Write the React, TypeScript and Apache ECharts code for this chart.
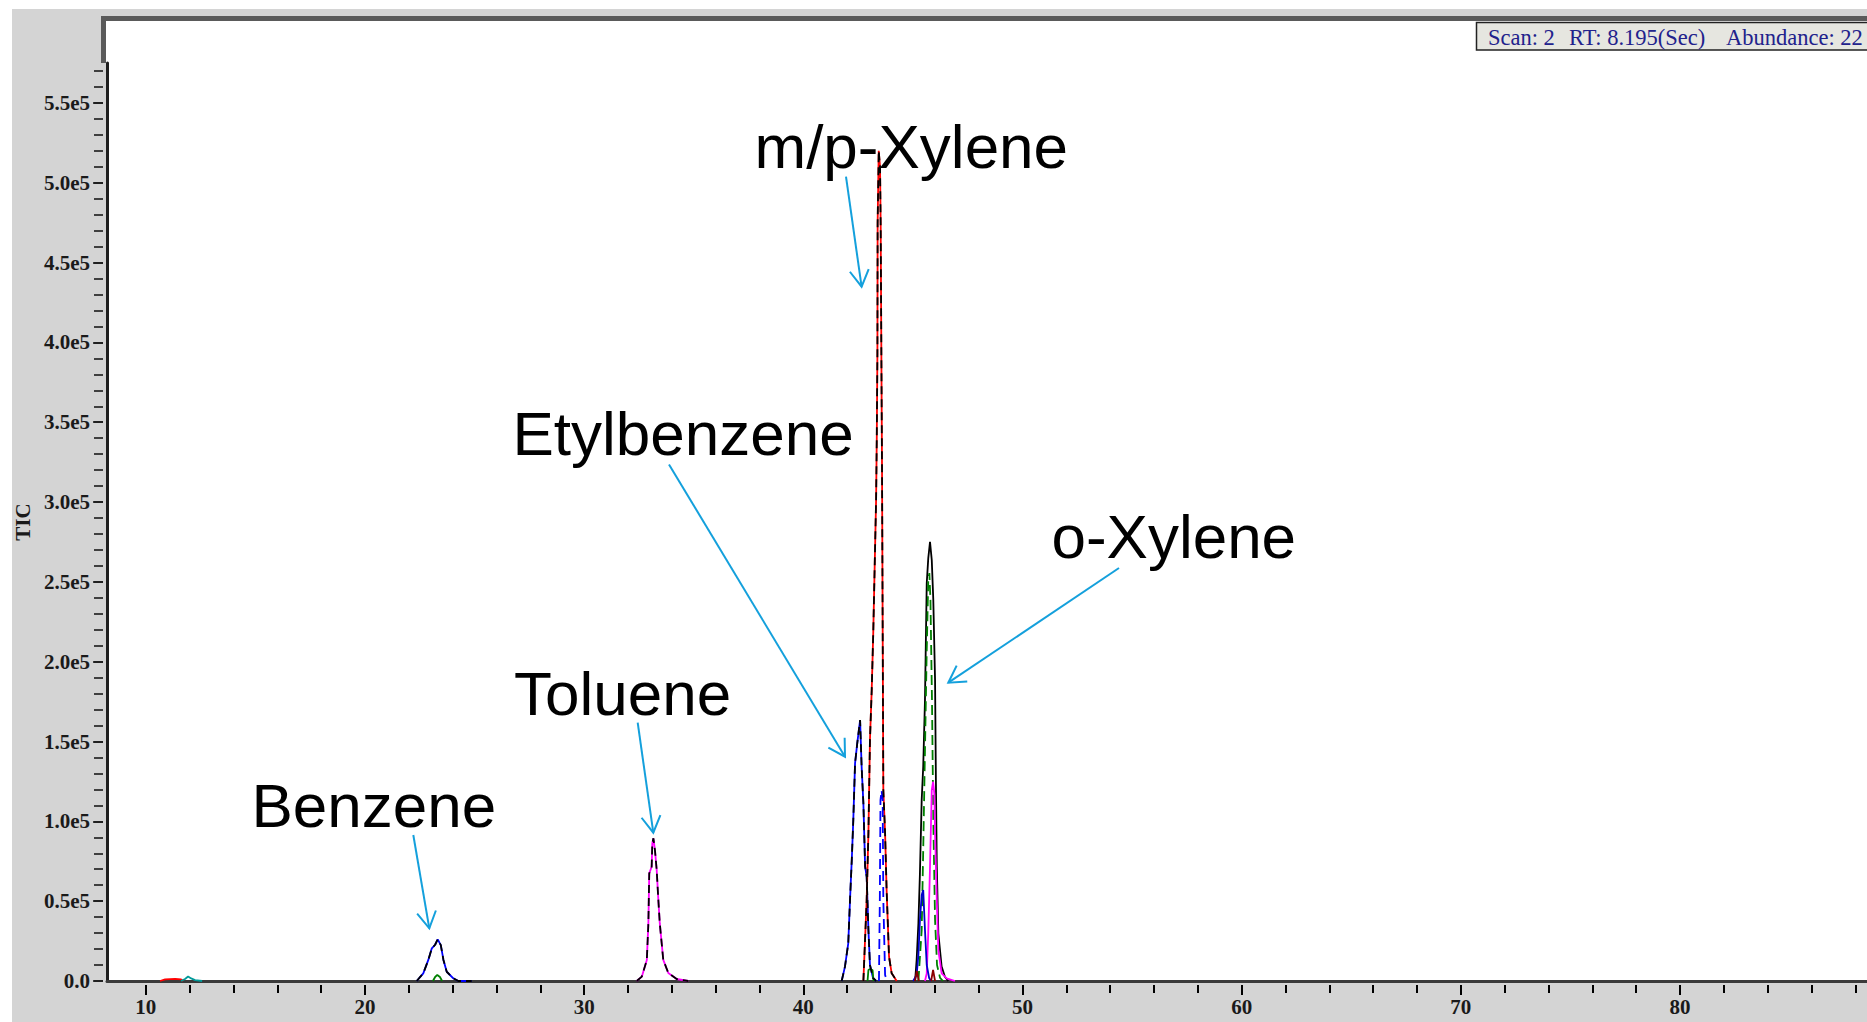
import React, { useEffect, useRef } from "react";
import * as echarts from "echarts";

// ---------- axis ranges & ticks ----------
const X_MIN = 8.23;
const X_MAX = 88.53;
const Y_MIN = 0;
const Y_MAX = 575000;

const X_MAJOR_TICKS = [10, 20, 30, 40, 50, 60, 70, 80];
const X_MINOR_TICKS = [
  10, 12, 14, 16, 18, 20, 22, 24, 26, 28, 30, 32, 34, 36, 38, 40, 42, 44, 46, 48,
  50, 52, 54, 56, 58, 60, 62, 64, 66, 68, 70, 72, 74, 76, 78, 80, 82, 84, 86, 88,
];
const Y_MAJOR_TICKS = [
  0, 50000, 100000, 150000, 200000, 250000, 300000, 350000, 400000, 450000, 500000, 550000,
];
const Y_MINOR_TICKS = [
  0, 10000, 20000, 30000, 40000, 50000, 60000, 70000, 80000, 90000,
  100000, 110000, 120000, 130000, 140000, 150000, 160000, 170000, 180000, 190000,
  200000, 210000, 220000, 230000, 240000, 250000, 260000, 270000, 280000, 290000,
  300000, 310000, 320000, 330000, 340000, 350000, 360000, 370000, 380000, 390000,
  400000, 410000, 420000, 430000, 440000, 450000, 460000, 470000, 480000, 490000,
  500000, 510000, 520000, 530000, 540000, 550000, 560000, 570000,
];

// ---------- chromatogram traces (retention time, TIC) ----------
const smallRedRT = [10.65, 10.88, 11.34, 11.61, 11.7];
const smallRedTIC = [0, 1000, 1300, 1000, 0];

const smallTealRT = [11.61, 11.79, 11.93, 12.07, 12.25, 12.57];
const smallTealTIC = [0, 1300, 2800, 1600, 600, 0];

const benzeneRT = [22.36, 22.66, 22.89, 23.05, 23.2, 23.32, 23.46, 23.58, 23.73, 24.03, 24.26, 24.87];
const benzeneTIC = [0, 4800, 13200, 20500, 22700, 26100, 22500, 13200, 5800, 1700, 0, 0];

const benzeneGreenRT = [23.1, 23.2, 23.3, 23.42, 23.52];
const benzeneGreenTIC = [0, 2500, 3800, 2500, 0];

const tolueneRT = [32.4, 32.63, 32.86, 32.93, 32.97, 33.08, 33.11, 33.16, 33.23, 33.31, 33.38, 33.45, 33.61, 33.84, 34.22, 34.75];
const tolueneTIC = [0, 2700, 13200, 36100, 67400, 71600, 86200, 89400, 82000, 69500, 52000, 36200, 13200, 5000, 1250, 0];

const ethylbenzeneRT = [41.75, 41.9, 42.05, 42.13, 42.21, 42.28, 42.36, 42.46, 42.59, 42.66, 42.74, 42.82, 42.89, 42.97, 43.04, 43.18, 43.32];
const ethylbenzeneTIC = [0, 9000, 23600, 50700, 75800, 100800, 136300, 148900, 163400, 134200, 111300, 71600, 65300, 31900, 10000, 1900, 0];

const mpXyleneRT = [42.74, 42.89, 42.97, 43.04, 43.12, 43.19, 43.32, 43.35, 43.38, 43.39, 43.44, 43.5, 43.53, 43.56, 43.59, 43.65, 43.73, 43.8, 43.91, 44.03, 44.26];
const mpXyleneTIC = [0, 50700, 92700, 150900, 182200, 217900, 301200, 338800, 393300, 474700, 520000, 509900, 472300, 393300, 322100, 119600, 92700, 57000, 15200, 4800, 0];

const mpBlueDashRT = [43.45, 43.49, 43.52, 43.57, 43.62, 43.65, 43.73, 43.82];
const mpBlueDashTIC = [0, 50700, 113300, 119600, 113300, 50700, 3800, 0];

const greenSmallRT = [42.93, 42.97, 43.04, 43.16, 43.2];
const greenSmallTIC = [0, 6900, 7500, 6900, 0];

const oXyleneRT = [45.1, 45.17, 45.25, 45.32, 45.4, 45.47, 45.55, 45.63, 45.7, 45.78, 45.86, 45.93, 46.01, 46.05, 46.09, 46.16, 46.31, 46.46, 46.61];
const oXyleneTIC = [0, 13200, 36100, 67400, 113300, 134200, 175900, 249000, 264700, 275100, 263600, 238600, 188500, 123800, 71600, 29900, 9000, 2700, 0];

const oXyleneGreenRT = [45.25, 45.4, 45.47, 45.55, 45.63, 45.7, 45.75, 45.8, 45.87, 45.93, 46.01, 46.1, 46.24, 46.37];
const oXyleneGreenTIC = [0, 31900, 82000, 144700, 207300, 251100, 255500, 238600, 175900, 100800, 38200, 10000, 1900, 0];

const oXyleneMagentaRT = [45.55, 45.63, 45.7, 45.78, 45.86, 45.92, 45.98, 46.01, 46.09, 46.16, 46.31, 46.54, 46.92];
const oXyleneMagentaTIC = [0, 4800, 29900, 71600, 119600, 124800, 117000, 92700, 50700, 19400, 4800, 1700, 0];

const oXyleneBlueRT = [45.01, 45.17, 45.25, 45.32, 45.4, 45.47, 45.55, 45.63, 45.74, 45.83];
const oXyleneBlueTIC = [0, 3800, 16300, 38200, 53900, 57000, 31900, 10000, 1900, 0];

const darkRedART = [45.09, 45.18, 45.27];
const darkRedATIC = [0, 6300, 0];
const darkRedBRT = [45.83, 45.92, 46.01];
const darkRedBTIC = [0, 6900, 0];

// ---------- annotations ----------
const LABELS = ["Benzene", "Toluene", "Etylbenzene", "m/p-Xylene", "o-Xylene"];
const INFO_PARTS = ["Scan: 2", "RT: 8.195(Sec)", "Abundance: 22"];

const ARROW_COLOR = "#14a0dc";

function pts(rt: number[], tic: number[]) {
  return rt.map((x, i) => [x, tic[i]]);
}

function trace(name: string, rt: number[], tic: number[], color: string, dashed: boolean, z: number, dash?: number[]) {
  return {
    type: "line",
    name,
    data: pts(rt, tic),
    symbol: "none",
    showSymbol: false,
    silent: true,
    z,
    xAxisIndex: 0,
    yAxisIndex: 0,
    lineStyle: { color, width: 1.8, type: dashed ? dash || [8, 5] : "solid" },
  };
}

function arrow(x1: number, y1: number, x2: number, y2: number) {
  const a = Math.atan2(y1 - y2, x1 - x2);
  const L = 19;
  const w1 = [x2 + L * Math.cos(a + Math.PI / 6), y2 + L * Math.sin(a + Math.PI / 6)];
  const w2 = [x2 + L * Math.cos(a - Math.PI / 6), y2 + L * Math.sin(a - Math.PI / 6)];
  return [
    { type: "line", z: 50, silent: true, shape: { x1, y1, x2, y2 }, style: { stroke: ARROW_COLOR, lineWidth: 2 } },
    {
      type: "polyline",
      z: 50,
      silent: true,
      shape: { points: [w1, [x2, y2], w2] },
      style: { stroke: ARROW_COLOR, lineWidth: 2, fill: "none" },
    },
  ];
}

function bigText(text: string, x: number, baseline: number) {
  return {
    type: "text",
    z: 50,
    silent: true,
    x,
    y: baseline - 21.5,
    style: {
      text,
      fill: "#000000",
      font: '62px "Liberation Sans", Arial, sans-serif',
      textAlign: "left",
      textVerticalAlign: "middle",
      align: "left",
      verticalAlign: "middle",
    },
  };
}

function infoText(text: string, x: number) {
  return {
    type: "text",
    z: 51,
    silent: true,
    x,
    y: 37,
    style: {
      text,
      fill: "#22228c",
      font: '22.5px "Liberation Serif", "Times New Roman", serif',
      textAlign: "left",
      textVerticalAlign: "middle",
      align: "left",
      verticalAlign: "middle",
    },
  };
}

const serifLabel = {
  fontFamily: '"Liberation Serif", "Times New Roman", serif',
  fontWeight: "bold",
  fontSize: 21,
  color: "#1a1a1a",
};

export default function App() {
  const ref = useRef<HTMLDivElement>(null);

  useEffect(() => {
    if (!ref.current) return;
    const chart = echarts.init(ref.current, undefined, { renderer: "svg" });

    const graphics: any[] = [
      { type: "rect", z: -20, silent: true, shape: { x: 12, y: 9, width: 1855, height: 1013 }, style: { fill: "#d4d4d4" } },
      { type: "rect", z: -19, silent: true, shape: { x: 106, y: 21, width: 1761, height: 960 }, style: { fill: "#ffffff" } },
      {
        type: "polyline",
        z: -18,
        silent: true,
        shape: { points: [[103.5, 63], [103.5, 18.5], [1867, 18.5]] },
        style: { stroke: "#5a5a5a", lineWidth: 5, fill: "none" },
      },
      {
        type: "rect",
        z: 49,
        silent: true,
        shape: { x: 1476.5, y: 22.5, width: 420, height: 27.5 },
        style: { fill: "#e6e6e0", stroke: "#222222", lineWidth: 1.5 },
      },
      infoText(INFO_PARTS[0], 1488),
      infoText(INFO_PARTS[1], 1569),
      infoText(INFO_PARTS[2], 1726),
      bigText(LABELS[0], 251.5, 826.7),
      bigText(LABELS[1], 514, 715),
      bigText(LABELS[2], 512.5, 455),
      bigText(LABELS[3], 754.5, 168.3),
      bigText(LABELS[4], 1051.4, 558.3),
      ...arrow(413.3, 835, 429.3, 928.3),
      ...arrow(637.7, 722.7, 653.3, 832.7),
      ...arrow(669, 464.4, 845, 756.7),
      ...arrow(846, 176.7, 861.6, 286.7),
      ...arrow(1119, 568, 948.3, 682.7),
    ];

    const baseX = { type: "value", min: X_MIN, max: X_MAX, position: "bottom", gridIndex: 0, splitLine: { show: false } };
    const baseY = { type: "value", min: Y_MIN, max: Y_MAX, position: "left", gridIndex: 0, splitLine: { show: false } };

    chart.setOption({
      animation: false,
      backgroundColor: "#ffffff",
      grid: { left: 107, right: 0, top: 63, bottom: 41, containLabel: false },
      xAxis: [
        {
          ...baseX,
          axisLine: { show: true, onZero: false, lineStyle: { color: "#3a3a3a", width: 3 } },
          axisTick: { show: false },
          axisLabel: { show: false },
        },
        {
          ...baseX,
          offset: 4,
          axisLine: { show: false, onZero: false },
          axisTick: { show: true, customValues: X_MAJOR_TICKS, length: 10, lineStyle: { color: "#000000", width: 2 } },
          axisLabel: { show: true, customValues: X_MAJOR_TICKS, margin: 11, ...serifLabel },
        },
        {
          ...baseX,
          offset: 4,
          axisLine: { show: false, onZero: false },
          axisTick: { show: true, customValues: X_MINOR_TICKS, length: 8, lineStyle: { color: "#000000", width: 2 } },
          axisLabel: { show: false },
        },
      ],
      yAxis: [
        {
          ...baseY,
          name: "TIC",
          nameLocation: "middle",
          nameRotate: 90,
          nameGap: 74,
          nameTextStyle: { ...serifLabel, fontSize: 21 },
          axisLine: { show: true, onZero: false, lineStyle: { color: "#1e1e1e", width: 3 } },
          axisTick: { show: false },
          axisLabel: { show: false },
        },
        {
          ...baseY,
          offset: 4,
          axisLine: { show: false, onZero: false },
          axisTick: { show: true, customValues: Y_MAJOR_TICKS, length: 10, lineStyle: { color: "#1a1a1a", width: 1.6 } },
          axisLabel: {
            show: true,
            customValues: Y_MAJOR_TICKS,
            margin: 13,
            ...serifLabel,
            formatter: (v: number) => (v === 0 ? "0.0" : (v / 100000).toFixed(1) + "e5"),
          },
        },
        {
          ...baseY,
          offset: 4,
          axisLine: { show: false, onZero: false },
          axisTick: { show: true, customValues: Y_MINOR_TICKS, length: 9, lineStyle: { color: "#1a1a1a", width: 1.6 } },
          axisLabel: { show: false },
        },
      ],
      graphic: graphics,
      series: [
        trace("red-small", smallRedRT, smallRedTIC, "#ff0000", false, 3),
        trace("teal-small", smallTealRT, smallTealTIC, "#009999", false, 3),
        trace("benzene", benzeneRT, benzeneTIC, "#0000ff", false, 3),
        trace("benzene-green", benzeneGreenRT, benzeneGreenTIC, "#008000", false, 4),
        trace("toluene", tolueneRT, tolueneTIC, "#ff00ff", false, 3),
        trace("ethylbenzene", ethylbenzeneRT, ethylbenzeneTIC, "#0000ff", false, 3),
        trace("mp-xylene", mpXyleneRT, mpXyleneTIC, "#ff0000", false, 3),
        trace("mp-blue-dash", mpBlueDashRT, mpBlueDashTIC, "#0000ff", true, 5, [10, 6]),
        trace("green-small", greenSmallRT, greenSmallTIC, "#008000", false, 4),
        trace("o-xylene", oXyleneRT, oXyleneTIC, "#000000", false, 3),
        trace("o-xylene-green", oXyleneGreenRT, oXyleneGreenTIC, "#008000", true, 4, [10, 5]),
        trace("o-xylene-magenta", oXyleneMagentaRT, oXyleneMagentaTIC, "#ff00ff", false, 5),
        trace("o-xylene-blue", oXyleneBlueRT, oXyleneBlueTIC, "#0000cc", false, 5),
        trace("darkred-a", darkRedART, darkRedATIC, "#8b0000", false, 5),
        trace("darkred-b", darkRedBRT, darkRedBTIC, "#8b0000", false, 5),
        trace("benzene-black", benzeneRT, benzeneTIC, "#000000", true, 6),
        trace("toluene-black", tolueneRT, tolueneTIC, "#000000", true, 6),
        trace("ethylbenzene-black", ethylbenzeneRT, ethylbenzeneTIC, "#000000", true, 6),
        trace("mp-xylene-black", mpXyleneRT, mpXyleneTIC, "#000000", true, 6),
      ],
    });

    return () => chart.dispose();
  }, []);

  return (
    <div
      ref={ref}
      style={{ position: "absolute", left: 0, top: 0, width: 1867, height: 1022 }}
    />
  );
}
